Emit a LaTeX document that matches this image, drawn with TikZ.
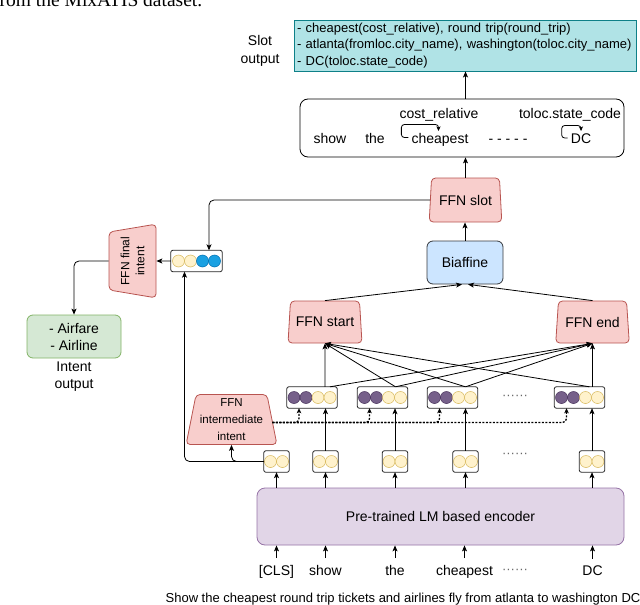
\documentclass[tikz,border=0pt]{standalone}
\usepackage{fontspec}
\setmainfont{Liberation Sans}
\newfontfamily\capfont{Liberation Serif}
\usetikzlibrary{shapes.geometric,arrows.meta,calc}
\definecolor{puF}{HTML}{76608A}
\definecolor{puS}{HTML}{432D57}
\definecolor{yeF}{HTML}{FFF2CC}
\definecolor{yeS}{HTML}{D6B656}
\definecolor{blF}{HTML}{1BA1E2}
\definecolor{blS}{HTML}{006EAF}
\definecolor{ffnF}{HTML}{F8CECC}
\definecolor{ffnS}{HTML}{B85450}
\definecolor{biF}{HTML}{CCE5FF}
\definecolor{biS}{HTML}{36393D}
\definecolor{slF}{HTML}{B0E3E6}
\definecolor{slS}{HTML}{0E8088}
\definecolor{enF}{HTML}{E1D5E7}
\definecolor{enS}{HTML}{9673A6}
\definecolor{inF}{HTML}{D5E8D4}
\definecolor{inS}{HTML}{82B366}
\newcommand\vecbox[4]{%
  \node[vbox, minimum width=#3] (#1) at #2 {};
  \foreach \dx/\st in {#4}{\draw[\st] ([xshift=\dx pt]#1.center) circle[radius=6pt];}
  \draw[vline] (#1.south west) rectangle (#1.north east);
}
\begin{document}
\begin{tikzpicture}[x=1pt,y=-1pt,
  every node/.style={font=\fontsize{14}{17}\selectfont},
  arr/.style={-{Stealth[length=6pt,width=5pt,inset=1.5pt]}, line width=0.8pt},
  sarr/.style={-{Stealth[length=4.5pt,width=4pt,inset=1pt]}, line width=0.8pt},
  dotarr/.style={-{Stealth[length=5pt,width=4.5pt,inset=1.2pt]}, line width=1.3pt, dash pattern=on 2pt off 1.5pt},
  trap/.style={trapezium, trapezium stretches=true, draw=ffnS, fill=ffnF, rounded corners=4pt, inner sep=0pt, line width=0.8pt, align=center},
  vbox/.style={fill=white, minimum height=21pt, inner sep=0pt},
  vline/.style={draw=black!85, rounded corners=2pt, line width=0.8pt},
  pu/.style={fill=puF, draw=puS, line width=0.5pt},
  ye/.style={fill=yeF, draw=yeS, line width=0.5pt},
  bl/.style={fill=blF, draw=blS, line width=0.5pt},
  word/.style={inner sep=0pt, anchor=base},
  dots/.style={text=black!60, font=\fontsize{13}{15}\selectfont}
]
\useasboundingbox (0,0) rectangle (640,605);

% cut caption at the top
\node[font=\capfont\fontsize{19.5}{22}\selectfont, anchor=base west, inner sep=0pt] (toptext) at (-7,6) {from the MixATIS dataset.};

% slot output
\node[draw=slS, fill=slF, line width=0.8pt, minimum width=342pt, minimum height=51pt, text width=336pt, inner sep=3pt, align=left, font=\fontsize{13}{16.5}\selectfont] (slot) at (465,45.5)
 {- cheapest(cost\_relative), round trip(round\_trip)\\- atlanta(fromloc.city\_name), washington(toloc.city\_name)\\- DC(toloc.state\_code)};
\node[align=center, font=\fontsize{14}{18}\selectfont] (slotlab) at (260,51) {Slot\\output};

% sentence box
\node[draw, rounded corners=8pt, line width=0.8pt, minimum width=324pt, minimum height=58pt] (sent) at (462,128) {};
\node[word] (sshow) at (330,143.5) {show};
\node[word] (sthe) at (375,143.5) {the};
\node[word] (scheap) at (440,143.5) {cheapest};
\node[word] (sdash) at (508,143.5) {- - - - -};
\node[word] (sdc) at (581,143.5) {DC};
\node[word] (lcost) at (439,118) {cost\_relative};
\node[word] (lstate) at (570,118) {toloc.state\_code};
\draw[sarr, rounded corners=3pt] ([xshift=-3pt,yshift=6pt]scheap.base west) -| ++(-7,-13) -| ([xshift=-1.5pt,yshift=12.5pt]scheap.base);
\draw[sarr, rounded corners=3pt] ([xshift=-3pt,yshift=5.5pt]sdc.base west) -| ++(-6,-12.5) -| ([yshift=12.5pt]sdc.base);

% FFN slot, biaffine
\node[trap, minimum width=73pt, minimum height=44pt, trapezium angle=80] (ffnslot) at (465.5,200) {FFN slot};
\node[draw=biS, fill=biF, rounded corners=6pt, line width=0.8pt, minimum width=76pt, minimum height=43pt] (bia) at (465,262.5) {Biaffine};
\node[trap, minimum width=74pt, minimum height=42pt, trapezium angle=78] (fst) at (325,322) {FFN start};
\node[trap, minimum width=74pt, minimum height=42pt, trapezium angle=78] (fen) at (592.5,322) {FFN end};

% intent side
\node[trap, font=\fontsize{12}{15}\selectfont, minimum width=74pt, minimum height=47pt, trapezium angle=74.5, rotate=90] (ffi) at (132.5,261) {FFN final\\intent};
\node[draw=inS, fill=inF, rounded corners=6pt, line width=0.8pt, minimum width=94pt, minimum height=43pt, align=center] (intent) at (74,336.5) {- Airfare\\- Airline};
\node[align=center] (intlab) at (74,376.5) {Intent\\output};
\vecbox{ivec}{(196.5,261)}{51pt}{-18/ye,-6/ye,6/bl,18/bl}

\node[trap, font=\fontsize{11.5}{17}\selectfont, minimum width=91pt, minimum height=50pt, trapezium angle=78] (ffnint) at (231.5,419.5) {FFN\\intermediate\\intent};

% vector rows
\vecbox{r2a}{(312,397.5)}{50pt}{-18/pu,-6/pu,6/ye,18/ye}
\vecbox{r2b}{(382.5,397.5)}{50pt}{-18/pu,-6/pu,6/ye,18/ye}
\vecbox{r2c}{(452.5,397.5)}{50pt}{-18/pu,-6/pu,6/ye,18/ye}
\vecbox{r2d}{(579.5,397.5)}{50pt}{-18/pu,-6/pu,6/ye,18/ye}
\node[dots] (d2) at (515,397) {······};
\vecbox{c0}{(276.5,461.5)}{25pt}{-6/ye,6/ye}
\vecbox{c1}{(325.5,461.5)}{25pt}{-6/ye,6/ye}
\vecbox{c2}{(395,461.5)}{25pt}{-6/ye,6/ye}
\vecbox{c3}{(465.5,461.5)}{25pt}{-6/ye,6/ye}
\vecbox{c4}{(592,461.5)}{25pt}{-6/ye,6/ye}
\node[dots] (d1) at (515,455) {······};

% encoder and input words
\node[draw=enS, fill=enF, rounded corners=8pt, line width=0.8pt, minimum width=367pt, minimum height=57pt] (enc) at (440.5,516.5) {Pre-trained LM based encoder};
\node[word] (wcls) at (276.5,575.5) {[CLS]};
\node[word] (wshow) at (325.5,575.5) {show};
\node[word] (wthe) at (395,575.5) {the};
\node[word] (wcheap) at (464.5,575.5) {cheapest};
\node[dots] (wdots) at (515,571.5) {······};
\node[word] (wdc) at (592.5,575.5) {DC};
\node[font=\fontsize{13}{15}\selectfont, anchor=base, inner sep=0pt] (caption) at (403,602) {Show the cheapest round trip tickets and airlines fly from atlanta to washington DC};

% connectors
\draw[arr] (ffnslot.north) -- (ffnslot.north |- sent.south);
\draw[arr] (ffnslot.north |- sent.north) -- (ffnslot.north |- slot.south);
\draw[arr] (bia.north) -- (bia.north |- ffnslot.south);
\draw[arr] (fst.north) -- ([xshift=-3pt]bia.south);
\draw[arr] (fen.north) -- ([xshift=3pt]bia.south);
\draw[arr, rounded corners=5pt] (ffnslot.west) -| ([xshift=12.5pt]ivec.north);
\draw[arr] (ivec.west) -- (ffi.south);
\draw[arr, rounded corners=5pt] (ffi.north) -| (intent.north);

\draw[arr] ([xshift=13pt]r2a.north) -- (fst.south);
\draw[arr] ([xshift=18pt]r2a.north) -- (fen.south);
\draw[arr] ([xshift=13pt]r2b.north) -- (fst.south);
\draw[arr] ([xshift=13pt]r2b.north) -- (fen.south);
\draw[arr] ([xshift=13pt]r2c.north) -- (fst.south);
\draw[arr] ([xshift=13pt]r2c.north) -- (fen.south);
\draw[arr] ([xshift=10pt]r2d.north) -- (fst.south);
\draw[arr] ([xshift=13pt]r2d.north) -- (fen.south);

\draw[arr] (c1.north) -- (c1.north |- r2a.south);
\draw[arr] (c2.north) -- (c2.north |- r2b.south);
\draw[arr] (c3.north) -- (c3.north |- r2c.south);
\draw[arr] (c4.north) -- (c4.north |- r2d.south);

\draw[arr, rounded corners=5pt] (c0.west) -| (ffnint.south);
\draw[arr, rounded corners=5pt] (c0.west) -| ([xshift=-12pt]ivec.south);

\foreach \b in {r2a,r2b,r2c,r2d}
  \draw[dotarr, rounded corners=4pt] ([yshift=-3pt]ffnint.east) -| ([xshift=-13pt]\b.south);

\foreach \c in {c0,c1,c2,c3,c4}
  \draw[arr] (enc.north -| \c) -- (\c.south);
\foreach \w in {wcls,wshow,wthe,wcheap,wdc}
  \draw[arr] ([yshift=7pt]\w.north) -- (\w.north |- enc.south);
\end{tikzpicture}
\end{document}
